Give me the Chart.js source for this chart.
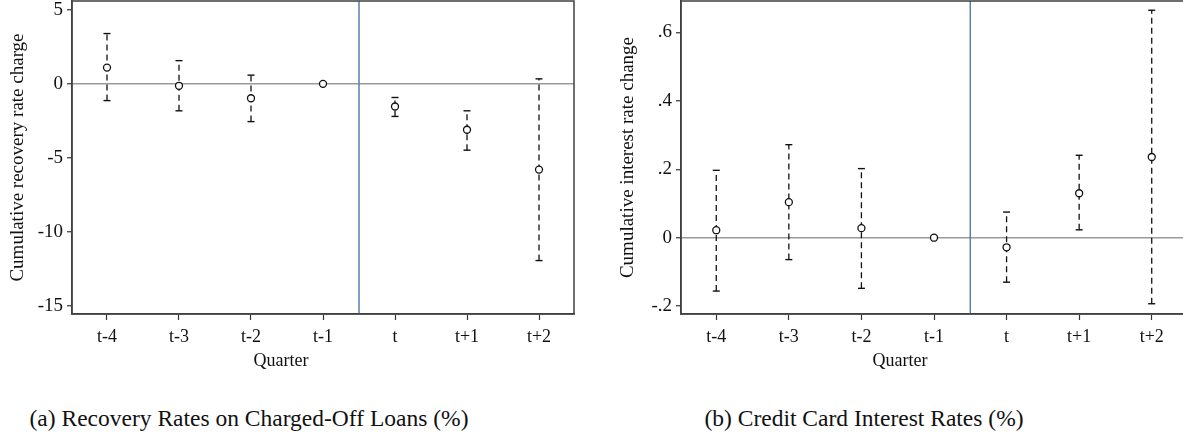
<!DOCTYPE html>
<html>
<head>
<meta charset="utf-8">
<script src="https://cdn.jsdelivr.net/npm/chart.js@4/dist/chart.umd.min.js"></script>
<style>
body{margin:0;width:1183px;height:439px;overflow:hidden;background:#fff;position:relative;font-family:"Liberation Serif",serif;color:#111;}
canvas{position:absolute;top:0;}
.lbl{position:absolute;transform:translate(-50%,-50%);white-space:nowrap;}
.xtitle{font-size:18px;top:360px;}
.cap{font-size:23.5px;top:418px;}
</style>
</head>
<body>
<canvas id="recovery" width="580" height="372" style="left:0"></canvas>
<canvas id="interest" width="590" height="372" style="left:600px"></canvas>
<div class="lbl xtitle" style="left:281px">Quarter</div>
<div class="lbl xtitle" style="left:900px">Quarter</div>
<div class="lbl cap" style="left:249px">(a) Recovery Rates on Charged-Off Loans (%)</div>
<div class="lbl cap" style="left:864px">(b) Credit Card Interest Rates (%)</div>
<script>
const quarters = ['t-4','t-3','t-2','t-1','t','t+1','t+2'];

// panel (a): recovery rates, point estimate and 95% bounds
const recoveryEst  = [1.1, -0.13, -0.97, 0, -1.53, -3.1, -5.79];
const recoveryLow  = [-1.13, -1.82, -2.55, null, -2.2, -4.48, -11.94];
const recoveryHigh = [3.4, 1.57, 0.59, null, -0.92, -1.82, 0.34];
const recoveryTicks = [-15, -10, -5, 0, 5];
const recoveryTickLabels = ['-15', '-10', '-5', '0', '5'];

// panel (b): credit card interest rates
const interestEst  = [0.022, 0.104, 0.028, 0, -0.028, 0.13, 0.236];
const interestLow  = [-0.156, -0.064, -0.148, null, -0.13, 0.023, -0.193];
const interestHigh = [0.197, 0.272, 0.202, null, 0.075, 0.241, 0.665];
const interestTicks = [-0.2, 0, 0.2, 0.4, 0.6];
const interestTickLabels = ['-.2', '0', '.2', '.4', '.6'];

const eventLine = 3.5;
const serif = 'Liberation Serif, serif';

// box around the plot region
const frame = {
  id: 'frame',
  afterDatasetsDraw(chart) {
    const {ctx, chartArea: a} = chart;
    ctx.save();
    ctx.strokeStyle = '#404040';
    ctx.lineWidth = 1.5;
    ctx.strokeRect(a.left, a.top, a.right - a.left, a.bottom - a.top);
    ctx.restore();
  }
};

function ciSegments(low, high) {
  const pts = [];
  low.forEach((lo, i) => {
    if (lo === null) return;
    pts.push({x: i, y: lo}, {x: i, y: high[i]}, {x: i, y: null});
  });
  return pts;
}

function buildPanel(id, cfg) {
  const ctx = document.getElementById(id).getContext('2d');
  return new Chart(ctx, {
    type: 'line',
    data: {
      datasets: [
        {
          data: cfg.est.map((v, i) => ({x: i, y: v})),
          showLine: false,
          pointStyle: 'circle',
          pointRadius: 3.5,
          pointBorderWidth: 1.3,
          pointBorderColor: '#111',
          pointBackgroundColor: '#fff',
          order: 0
        },
        {
          data: ciSegments(cfg.low, cfg.high),
          borderColor: '#111',
          borderWidth: 1.3,
          borderDash: [6, 4],
          spanGaps: false,
          pointStyle: 'line',
          pointRadius: 3.5,
          pointBorderWidth: 1.4,
          pointBorderColor: '#111',
          order: 1
        },
        {
          data: [{x: eventLine, y: cfg.min}, {x: eventLine, y: cfg.max}],
          borderColor: '#5a7fa8',
          borderWidth: 1.5,
          pointRadius: 0,
          order: 2
        }
      ]
    },
    options: {
      responsive: false,
      animation: false,
      layout: {autoPadding: false, padding: {top: 1, right: cfg.padRight, left: 0, bottom: 0}},
      plugins: {legend: {display: false}, tooltip: {enabled: false}},
      scales: {
        x: {
          type: 'linear',
          min: -0.486,
          max: 6.486,
          afterBuildTicks: s => { s.ticks = quarters.map((q, i) => ({value: i})); },
          afterFit: s => { s.height = 58; s.paddingLeft = 0; s.paddingRight = 0; },
          ticks: {
            callback: v => quarters[v],
            color: '#111',
            font: {family: serif, size: 18},
            padding: 6,
            maxRotation: 0
          },
          grid: {drawOnChartArea: false, tickLength: 6, tickColor: '#333', tickWidth: 1.2},
          border: {color: '#404040', width: 1.5}
        },
        y: {
          min: cfg.min,
          max: cfg.max,
          afterBuildTicks: s => { s.ticks = cfg.ticks.map(v => ({value: v})); },
          afterFit: s => { s.width = cfg.yWidth; s.paddingTop = 0; s.paddingBottom = 0; },
          ticks: {
            callback: (v, i) => cfg.tickLabels[i],
            color: '#111',
            font: {family: serif, size: 19},
            padding: 4
          },
          grid: {
            color: c => (c.tick && c.tick.value === 0) ? '#9a9a9a' : 'rgba(0,0,0,0)',
            lineWidth: 1.5,
            tickLength: 5,
            tickColor: '#333',
            tickWidth: 1.2
          },
          border: {color: '#404040', width: 1.5},
          title: {
            display: true,
            text: cfg.title,
            color: '#111',
            font: {family: serif, size: 19},
            padding: {top: cfg.titlePad, bottom: 0}
          }
        }
      }
    },
    plugins: [frame]
  });
}

buildPanel('recovery', {
  est: recoveryEst, low: recoveryLow, high: recoveryHigh,
  ticks: recoveryTicks, tickLabels: recoveryTickLabels,
  min: -15.55, max: 5.6,
  yWidth: 72, padRight: 6, titlePad: 7,
  title: 'Cumulative recovery rate charge'
});

buildPanel('interest', {
  est: interestEst, low: interestLow, high: interestHigh,
  ticks: interestTicks, tickLabels: interestTickLabels,
  min: -0.223, max: 0.692,
  yWidth: 81, padRight: 3, titlePad: 17,
  title: 'Cumulative interest rate change'
});
</script>
</body>
</html>
